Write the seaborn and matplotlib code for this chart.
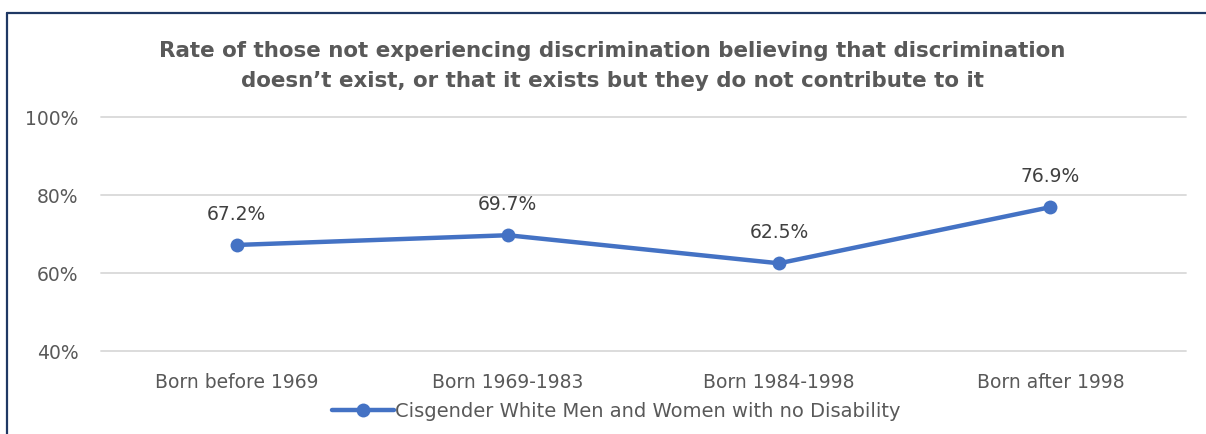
import matplotlib
matplotlib.use('Agg')
import matplotlib.pyplot as plt
import seaborn as sns
import pandas as pd
from matplotlib.lines import Line2D
from matplotlib.ticker import FuncFormatter

# dados do gráfico
categorias = ['Born before 1969', 'Born 1969-1983', 'Born 1984-1998', 'Born after 1998']
valores = [67.2, 69.7, 62.5, 76.9]
serie = 'Cisgender White Men and Women with no Disability'
titulo = ('Rate of those not experiencing discrimination believing that discrimination\n'
          'doesn\u2019t exist, or that it exists but they do not contribute to it')

sns.set_style('white')
plt.rcParams['font.family'] = ['DejaVu Sans']

df = pd.DataFrame({'categoria': categorias, 'valor': valores, 'serie': serie})

cinza = '#595959'
azul = '#4472C4'

fig = plt.figure(figsize=(12.06, 4.34), dpi=100)
ax = fig.add_axes([0.0837, 0.1912, 0.8997, 0.539])

sns.lineplot(data=df, x='categoria', y='valor', hue='serie', palette=[azul],
             marker='o', markersize=10, markeredgewidth=0, linewidth=3.2,
             sort=False, ax=ax)

ax.set_ylim(40, 100)
ax.set_xlim(-0.5, len(categorias) - 0.5)
ax.set_yticks([40, 60, 80, 100])
ax.yaxis.set_major_formatter(FuncFormatter(lambda v, p: f'{v:.0f}%'))
ax.grid(axis='y', color='#d9d9d9', linewidth=1.3)
ax.grid(axis='x', visible=False)
for gl in ax.get_ygridlines():
    gl.set_clip_on(False)
for s in ax.spines.values():
    s.set_visible(False)
ax.tick_params(axis='both', length=0, labelsize=13.5, colors=cinza)
ax.tick_params(axis='x', pad=16)
ax.tick_params(axis='y', pad=16)
ax.set_xlabel('')
ax.set_ylabel('')

for i, v in enumerate(valores):
    ax.annotate(f'{v:.1f}%', (i, v), xytext=(0, 15), textcoords='offset points',
                ha='center', va='bottom', fontsize=13.5, color='#404040')

leg = ax.legend(loc='upper center', bbox_to_anchor=(0.475, -0.185), frameon=False,
                fontsize=14, handlelength=3.2, handletextpad=0.05, borderaxespad=0)
for t in leg.get_texts():
    t.set_color(cinza)

fig.text(0.5075, 0.848, titulo, ha='center', va='center', fontsize=15.4,
         fontweight='bold', color=cinza, linespacing=1.65)

# moldura
fig.add_artist(Line2D([0.0058, 1.0], [0.970, 0.970], color='#1F3864', linewidth=1.6))
fig.add_artist(Line2D([0.0058, 0.0058], [0.0, 0.970], color='#1F3864', linewidth=1.6))

plt.savefig('out.png', dpi=100)
plt.close()
